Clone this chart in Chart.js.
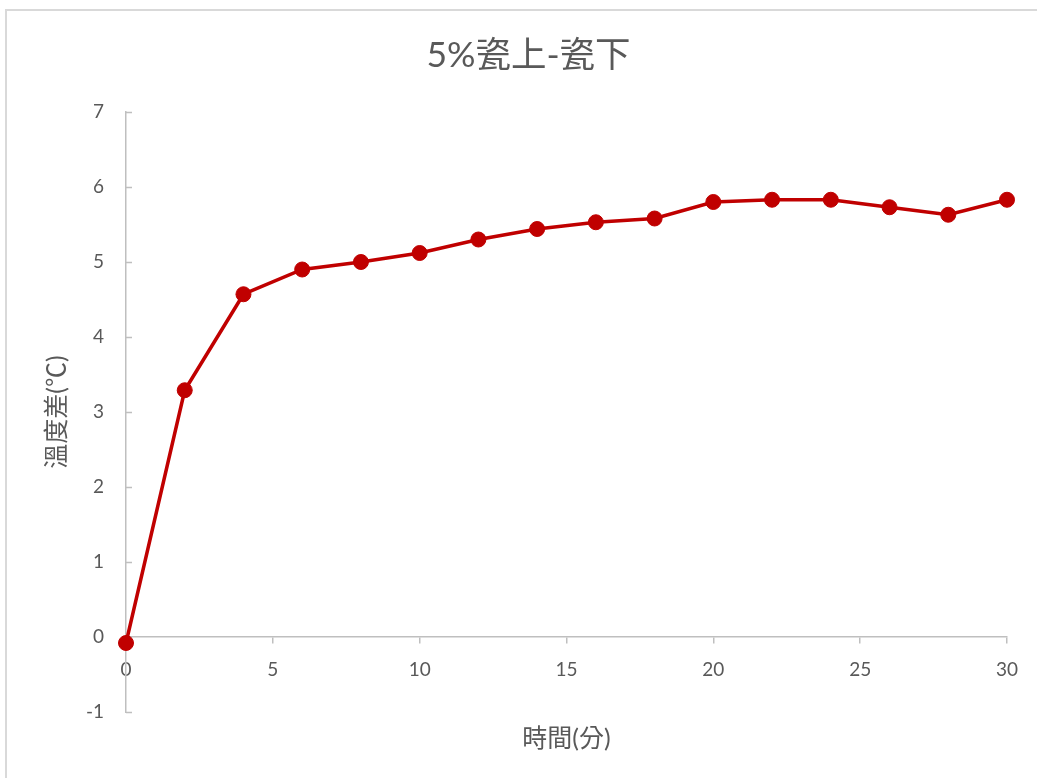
<!DOCTYPE html>
<html>
<head>
<meta charset="utf-8">
<script src="https://cdn.jsdelivr.net/npm/chart.js@4"></script>
<style>
  html, body { margin: 0; padding: 0; background: #ffffff; }
  #wrap { width: 1037px; height: 778px; position: relative; }
</style>
</head>
<body>
<div id="wrap"><canvas id="chart"></canvas></div>
<script>
// Elapsed time (minutes) and temperature difference, upper minus lower tile (°C)
const minutes  = [0, 2, 4, 6, 8, 10, 12, 14, 16, 18, 20, 22, 24, 26, 28, 30];
const tempDiff = [-0.08, 3.29, 4.57, 4.90, 5.00, 5.12, 5.30, 5.44, 5.53, 5.58, 5.80, 5.83, 5.83, 5.73, 5.63, 5.83];

// Axis tick values
const xTickValues = [0, 5, 10, 15, 20, 25, 30];
const yTickValues = [-1, 0, 1, 2, 3, 4, 5, 6, 7];

const chartTitle = '5%瓷上-瓷下';
const xTitle = '時間(分)';
const yTitle = '溫度差(℃)';

const TEXT = '#595959';
const AXIS = '#BFBFBF';
const RED = '#C00000';
const FONT = 'Lato, "Noto Sans CJK TC", sans-serif';

// White page with the light frame along the top and left edges
const framePlugin = {
  id: 'frame',
  beforeDraw(chart) {
    const { ctx, width, height } = chart;
    ctx.save();
    ctx.fillStyle = '#ffffff';
    ctx.fillRect(0, 0, width, height);
    ctx.strokeStyle = '#D9D9D9';
    ctx.lineWidth = 2;
    ctx.beginPath();
    ctx.moveTo(6, height);
    ctx.lineTo(6, 10);
    ctx.lineTo(width, 10);
    ctx.stroke();
    ctx.restore();
  }
};

// Short tick marks on the inner side of the value axis
const innerTicksPlugin = {
  id: 'innerTicks',
  beforeDatasetsDraw(chart) {
    const { ctx } = chart;
    const y = chart.scales.y;
    const left = chart.chartArea.left;
    ctx.save();
    ctx.strokeStyle = AXIS;
    ctx.lineWidth = 1.5;
    ctx.beginPath();
    y.ticks.forEach(t => {
      const py = Math.round(y.getPixelForValue(t.value)) + 0.5;
      ctx.moveTo(left, py);
      ctx.lineTo(left + 6, py);
    });
    ctx.stroke();
    ctx.restore();
  }
};

new Chart(document.getElementById('chart'), {
  type: 'line',
  data: {
    datasets: [{
      data: minutes.map((m, i) => ({ x: m, y: tempDiff[i] })),
      borderColor: RED,
      backgroundColor: RED,
      borderWidth: 3.5,
      pointRadius: 7.5,
      pointHoverRadius: 7.5,
      pointBorderWidth: 1,
      pointBackgroundColor: RED,
      pointBorderColor: RED,
      tension: 0,
      clip: false
    }]
  },
  options: {
    responsive: true,
    maintainAspectRatio: false,
    animation: false,
    devicePixelRatio: 1,
    layout: { padding: { left: 50, right: 30, top: 0, bottom: 66 } },
    plugins: {
      legend: { display: false },
      tooltip: { enabled: false },
      title: {
        display: true,
        text: chartTitle,
        color: TEXT,
        font: { family: FONT, size: 35.5, weight: 'normal' },
        padding: { top: 34.7, bottom: 34.7 }
      }
    },
    scales: {
      x: {
        type: 'linear',
        position: { y: 0 },
        min: 0,
        max: 30,
        afterBuildTicks(scale) {
          scale.ticks = xTickValues.map(v => ({ value: v }));
        },
        ticks: {
          color: TEXT,
          font: { family: FONT, size: 19 },
          padding: 15,
          maxRotation: 0,
          autoSkip: false
        },
        grid: {
          display: true,
          drawOnChartArea: false,
          drawTicks: true,
          tickLength: 6,
          color: AXIS,
          lineWidth: 1.5
        },
        border: { display: true, color: AXIS, width: 1.5 },
        title: {
          display: true,
          text: xTitle,
          color: TEXT,
          font: { family: FONT, size: 25 },
          padding: { top: 28, bottom: 0 }
        }
      },
      y: {
        type: 'linear',
        position: 'left',
        min: -1,
        max: 7,
        afterBuildTicks(scale) {
          scale.ticks = yTickValues.map(v => ({ value: v }));
        },
        afterFit(scale) {
          scale.width = 76;
        },
        ticks: {
          color: TEXT,
          font: { family: FONT, size: 19 },
          padding: 22
        },
        grid: {
          display: true,
          drawOnChartArea: false,
          drawTicks: false
        },
        border: { display: true, color: AXIS, width: 1.5 },
        title: {
          display: true,
          text: yTitle,
          color: TEXT,
          font: { family: FONT, size: 25 },
          padding: { top: -8, bottom: 0 }
        }
      }
    }
  },
  plugins: [framePlugin, innerTicksPlugin]
});
</script>
</body>
</html>
